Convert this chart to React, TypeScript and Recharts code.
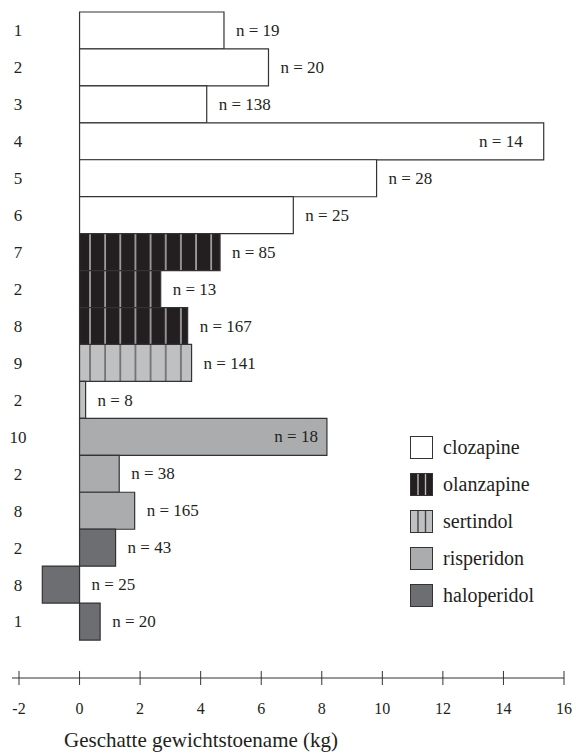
import React from 'react';
import { BarChart, Bar, XAxis, YAxis, Cell, LabelList, Legend } from 'recharts';

// ---- data ----
const rowLabels = ['1', '2', '3', '4', '5', '6', '7', '2', '8', '9', '2', '10', '2', '8', '2', '8', '1'];
const rowDrugs = [
  'clozapine', 'clozapine', 'clozapine', 'clozapine', 'clozapine', 'clozapine',
  'olanzapine', 'olanzapine', 'olanzapine',
  'sertindol', 'sertindol',
  'risperidon', 'risperidon', 'risperidon',
  'haloperidol', 'haloperidol', 'haloperidol',
];
const weightGain = [4.77, 6.24, 4.2, 15.33, 9.81, 7.06, 4.64, 2.68, 3.57, 3.7, 0.2, 8.17, 1.31, 1.82, 1.19, -1.23, 0.68];
const sampleSizes = [19, 20, 138, 14, 28, 25, 85, 13, 167, 141, 8, 18, 38, 165, 43, 25, 20];
const drugNames = ['clozapine', 'olanzapine', 'sertindol', 'risperidon', 'haloperidol'];
const xTicks = [-2, 0, 2, 4, 6, 8, 10, 12, 14, 16];
const xTitle = 'Geschatte gewichtstoename (kg)';

const data = rowLabels.map((label, i) => ({
  row: i,
  label,
  drug: rowDrugs[i],
  gain: weightGain[i],
  n: sampleSizes[i],
}));

// ---- styling ----
const FONT = '"Liberation Serif", serif';
const INK = '#231f20';
const STROKE = '#333333';
const drugFill: Record<string, string> = {
  clozapine: '#ffffff',
  olanzapine: 'url(#olanzPattern)',
  sertindol: 'url(#sertPattern)',
  risperidon: '#abacae',
  haloperidol: '#6d6e71',
};
// rows whose n-label sits inside the bar end (gap from bar end, px)
const insideLabelGap: Record<number, number> = { 3: 21, 11: 9 };

const txt = (size: number): React.CSSProperties => ({ fontFamily: FONT, fontSize: size, fill: INK });

const NLabel = (props: any) => {
  const vb = props.viewBox && props.viewBox.x !== undefined ? props.viewBox : props;
  const { x, y, width, height } = vb;
  const index = props.index;
  const right = Math.max(x, x + width);
  const cy = y + height / 2;
  const inside = insideLabelGap[index] !== undefined;
  const tx = inside ? right - insideLabelGap[index] : right + 12;
  return (
    <text x={tx} y={cy} dy="0.33em" textAnchor={inside ? 'end' : 'start'} style={txt(17)}>
      {`n = ${props.value}`}
    </text>
  );
};

const YTick = (props: any) => {
  const { y, payload } = props;
  return (
    <text x={18} y={y} dy="0.35em" textAnchor="middle" style={txt(17)}>
      {rowLabels[payload.value]}
    </text>
  );
};

const XTick = (props: any) => {
  const { x, y, payload } = props;
  return (
    <g>
      <line x1={x} x2={x} y1={y - 7} y2={y + 7} stroke={STROKE} strokeWidth={1} />
      <text x={x} y={y + 36} textAnchor="middle" style={txt(16)}>
        {payload.value}
      </text>
    </g>
  );
};

const XTitle = (props: any) => {
  const vb = props.viewBox || { x: 12, y: 678 };
  return (
    <text x={vb.x + 189} y={vb.y + 69} textAnchor="middle" style={txt(21)}>
      {xTitle}
    </text>
  );
};

const Swatch = ({ drug }: { drug: string }) => {
  const patterned = drug === 'olanzapine' || drug === 'sertindol';
  const base = drug === 'olanzapine' ? INK : drug === 'sertindol' ? '#bfc0c2' : drugFill[drug];
  const lineColor = drug === 'olanzapine' ? '#b8b8b8' : '#444';
  return (
    <svg width={23} height={23} style={{ display: 'block' }}>
      <rect x={0.5} y={0.5} width={22} height={22} fill={base} stroke={STROKE} strokeWidth={1} />
      {patterned && (
        <>
          <line x1={8} x2={8} y1={1} y2={22} stroke={lineColor} strokeWidth={1.4} />
          <line x1={15.5} x2={15.5} y1={1} y2={22} stroke={lineColor} strokeWidth={1.4} />
        </>
      )}
    </svg>
  );
};

const LegendContent = () => (
  <div style={{ fontFamily: FONT, color: INK }}>
    {drugNames.map((d) => (
      <div key={d} style={{ display: 'flex', alignItems: 'center', height: 23, marginBottom: 14 }}>
        <Swatch drug={d} />
        <span style={{ marginLeft: 10, fontSize: 20, lineHeight: '23px' }}>{d}</span>
      </div>
    ))}
  </div>
);

export default function App() {
  return (
    <div style={{ position: 'absolute', left: 0, top: 0, background: '#fff' }}>
      <BarChart
        width={576}
        height={754}
        data={data}
        layout="vertical"
        barCategoryGap={0}
        barGap={0}
        margin={{ top: 12, right: 12, bottom: 0, left: 0 }}
        style={{ fontFamily: FONT }}
      >
        <defs>
          <pattern id="olanzPattern" patternUnits="userSpaceOnUse" x={0} y={0} width={15.15} height={10}>
            <rect x={0} y={0} width={15.15} height={10} fill={INK} />
            <rect x={13.5} y={0} width={1.5} height={10} fill="#b4b4b4" />
          </pattern>
          <pattern id="sertPattern" patternUnits="userSpaceOnUse" x={0} y={0} width={15.15} height={10}>
            <rect x={0} y={0} width={15.15} height={10} fill="#bfc0c2" />
            <rect x={13.6} y={0} width={1.3} height={10} fill="#555" />
          </pattern>
        </defs>
        <XAxis
          type="number"
          domain={[-2, 16]}
          ticks={xTicks}
          allowDataOverflow
          padding={{ left: 7, right: 0 }}
          height={76}
          axisLine={{ stroke: STROKE, strokeWidth: 1.2 }}
          tickLine={false}
          tickSize={0}
          tickMargin={0}
          tick={<XTick />}
          interval={0}
          label={<XTitle />}
        />
        <YAxis
          type="category"
          dataKey="row"
          width={12}
          axisLine={false}
          tickLine={false}
          tickSize={0}
          tickMargin={0}
          interval={0}
          padding={{ top: 0, bottom: 38 }}
          tick={<YTick />}
        />
        <Legend
          layout="vertical"
          align="center"
          verticalAlign="middle"
          content={<LegendContent />}
          wrapperStyle={{ left: 410, top: 436, width: 160, height: 'auto' }}
        />
        <Bar dataKey="gain" isAnimationActive={false} stroke={STROKE} strokeWidth={1.2}>
          {data.map((d, i) => (
            <Cell key={i} fill={drugFill[d.drug]} />
          ))}
          <LabelList dataKey="n" content={<NLabel />} />
        </Bar>
      </BarChart>
    </div>
  );
}
